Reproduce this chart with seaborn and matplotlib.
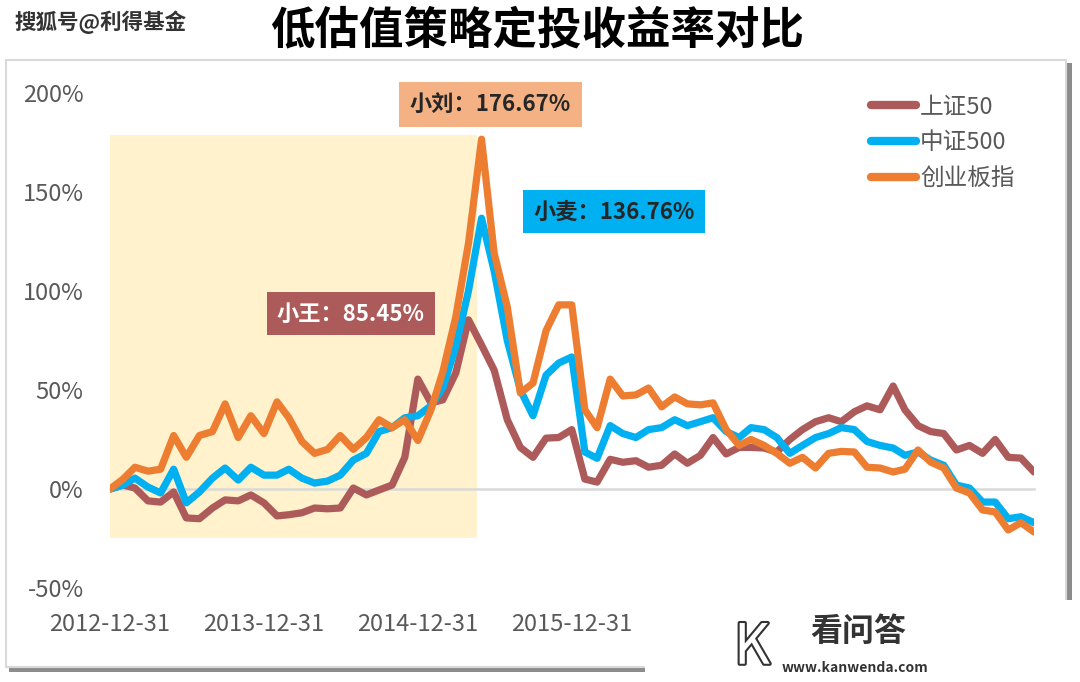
import numpy as np
import pandas as pd
import matplotlib
matplotlib.use("Agg")
import matplotlib.pyplot as plt
import matplotlib.dates as mdates
import matplotlib.patheffects as pe
from matplotlib.patches import Rectangle
import seaborn as sns

# monthly cumulative return (%) of the fixed-investment plan, 2012-12 .. 2018-12
dates = pd.date_range("2012-12-31", periods=73, freq="ME")

sz50 = [0, 2, 0.5, -6, -6.6, -1.5, -14.6, -15, -9.6, -5.5,
        -6, -3, -7, -13.6, -13, -12, -9.6, -10, -9.6, 0.5,
        -3, -0.5, 2, 16, 55.5, 43.5, 45, 58.6, 85.45, 72.7,
        60, 35, 21, 16, 25.7, 26, 30, 5, 3.5, 15,
        13.5, 14.3, 11, 12, 17.7, 13, 17, 26, 17.7, 21,
        21, 20.7, 18.7, 25, 30, 34, 36, 34, 39, 42,
        40, 52, 40, 32, 29, 28, 19.7, 22, 18, 25,
        16, 15.6, 8.6]

zz500 = [0, 2, 5.5, 1, -2, 10, -7, -1.5, 5.5, 10.6,
         4.5, 11, 7, 7, 10, 5.5, 3, 4, 7, 14.6,
         18, 29, 31, 36, 37, 42, 51, 72, 100, 136.76,
         110, 75, 50, 37, 57.5, 63.6, 66.7, 18.7, 15.5, 32,
         28, 26, 30, 31, 35, 32, 34, 36, 29, 26,
         31, 30, 26, 18, 22, 26, 28, 31, 30, 24,
         22, 20.7, 17, 18.7, 14.6, 12, 2, 0.5, -6.6, -6.6,
         -15, -14, -17]

cyb = [0, 5, 11, 9, 10, 27, 16, 27, 29, 43,
       26, 37, 28, 44, 36, 24, 18, 20, 27, 20,
       26, 35, 31, 35, 24.5, 40, 59, 87, 124, 176.67,
       119, 92, 48.5, 53.5, 80, 93, 93, 40, 31, 55.5,
       47, 47.5, 51, 41.5, 46.5, 43, 42.5, 43.5, 30, 22,
       25, 22, 18, 13, 16, 10.6, 18, 19, 18.7, 11,
       10.6, 8.6, 10, 19.7, 13.6, 10.6, 0.5, -2, -10.6, -11.6,
       -20.7, -17, -21.7]

series_names = ["上证50", "中证500", "创业板指"]
colors = ["#AD5A5A", "#00B0F0", "#ED7D31"]

yticks = [-50, 0, 50, 100, 150, 200]
xtick_dates = pd.to_datetime(["2012-12-31", "2013-12-31", "2014-12-31",
                              "2015-12-31", "2016-12-31", "2017-12-31"])
xtick_labels = ["2012-12-31", "2013-12-31", "2014-12-31", "2015-12-31", "", ""]

# highlighted "low valuation" window
hl_start, hl_end = pd.Timestamp("2012-12-31"), pd.Timestamp("2015-05-20")
hl_low, hl_high = -24.7, 179

df = pd.DataFrame({"Date": dates, "上证50": sz50, "中证500": zz500, "创业板指": cyb})
long_df = df.melt(id_vars="Date", var_name="指数", value_name="收益率")

sns.set_style("white")
plt.rcParams["font.family"] = ["Noto Sans CJK SC", "DejaVu Sans"]

fig = plt.figure(figsize=(10.8, 6.82), dpi=100)

# outer chart frame with shadow
fig.patches.append(Rectangle((9 / 1080, 1 - 672 / 682), 1063 / 1080, 609 / 682,
                             transform=fig.transFigure, facecolor="#8C8C8C",
                             edgecolor="none", zorder=-3))
fig.patches.append(Rectangle((6 / 1080, 1 - 667 / 682), 1060 / 1080, 607 / 682,
                             transform=fig.transFigure, facecolor="white",
                             edgecolor="#D9D9D9", linewidth=1.5, zorder=-2))

ax = fig.add_axes([110 / 1080, 1 - 588 / 682, 924 / 1080, 495 / 682])
ax.set_facecolor("none")

ax.add_patch(Rectangle((mdates.date2num(hl_start), hl_low),
                       mdates.date2num(hl_end) - mdates.date2num(hl_start),
                       hl_high - hl_low, facecolor="#FFF2CC", edgecolor="none", zorder=0))

sns.lineplot(data=long_df, x="Date", y="收益率", hue="指数", hue_order=series_names,
             palette=colors, linewidth=5.2, ax=ax, legend=False, zorder=3)

ax.set_xlim(dates[0], dates[-1])
ax.set_ylim(-50, 200)
ax.set_yticks(yticks)
ax.set_yticklabels([f"{v}%" for v in yticks], fontsize=17, color="#595959")
ax.tick_params(axis="y", length=0, pad=19)

for s in ["top", "right", "left"]:
    ax.spines[s].set_visible(False)
ax.spines["bottom"].set_position(("data", 0))
ax.spines["bottom"].set_color("#D9D9D9")
ax.spines["bottom"].set_linewidth(1.8)
ax.spines["bottom"].set_zorder(1)
ax.set_xticks(xtick_dates)
ax.set_xticklabels(xtick_labels, fontsize=17, color="#595959")
ax.tick_params(axis="x", length=6, width=1.5, color="#D9D9D9", direction="out", pad=83)
ax.set_xlabel("")
ax.set_ylabel("")

# legend
handles = [plt.Line2D([], [], color=c, linewidth=6, solid_capstyle="round") for c in colors]
leg = ax.legend(handles, series_names, loc="upper left", bbox_to_anchor=(862 / 1080, 1 - 86 / 682),
                bbox_transform=fig.transFigure, frameon=False, fontsize=17,
                handlelength=1.9, handletextpad=0.15, labelspacing=0.55, borderaxespad=0)
for t in leg.get_texts():
    t.set_color("#595959")

# peak labels
box_kw = dict(ha="center", va="center", fontsize=16, fontweight="bold", zorder=5)
ax.text(dates[29] + pd.Timedelta(days=21), 194, "小刘：176.67%", color="#262626",
        bbox=dict(boxstyle="square,pad=0.5", facecolor="#F4B183", edgecolor="none"), **box_kw)
ax.text(dates[39] + pd.Timedelta(days=9), 140, "小麦：136.76%", color="#262626",
        bbox=dict(boxstyle="square,pad=0.45", facecolor="#00B0F0", edgecolor="none"), **box_kw)
ax.text(dates[19] - pd.Timedelta(days=6), 88.4, "小王：85.45%", color="white",
        bbox=dict(boxstyle="square,pad=0.45", facecolor="#AD5A5A", edgecolor="none"), **box_kw)

# titles
fig.text(537 / 1080, 1 - 30 / 682, "低估值策略定投收益率对比", ha="center", va="center",
         fontsize=32, fontweight="bold", color="black")
fig.text(14 / 1080, 1 - 22 / 682, "搜狐号@利得基金", ha="left", va="center",
         fontsize=15.5, fontweight="bold", color="#333333")

# watermark area bottom right
fig.add_artist(Rectangle((645 / 1080, 0), 435 / 1080, 82 / 682, transform=fig.transFigure,
                         facecolor="white", edgecolor="none", zorder=10))
fig.text(858 / 1080, 1 - 632 / 682, "看问答", ha="center", va="center", fontsize=23,
         fontweight="bold", color="#333333", zorder=11)
fig.text(855 / 1080, 1 - 668 / 682, "www.kanwenda.com", ha="center", va="center", fontsize=10,
         fontweight="bold", color="#333333", zorder=11)
fig.text(752 / 1080, 1 - 648 / 682, "K", ha="center", va="center", fontsize=40,
         color="white", zorder=11,
         path_effects=[pe.withStroke(linewidth=3, foreground="#333333")])

fig.savefig("out.png", dpi=100)
